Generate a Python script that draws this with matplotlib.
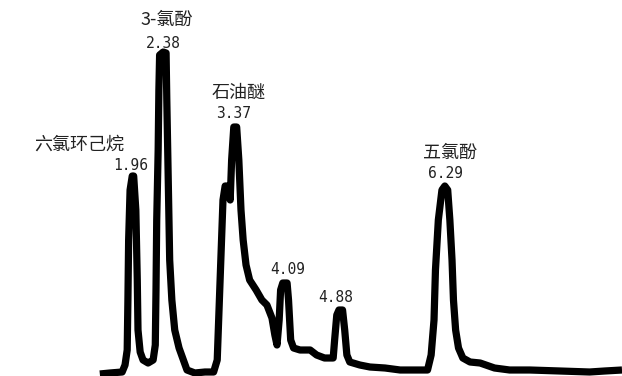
import matplotlib
matplotlib.use("Agg")
import matplotlib.pyplot as plt

# Chromatogram trace: retention time (min) and detector signal (arbitrary units)
time_min = [1.50, 1.64, 1.81, 1.85, 1.88, 1.89, 1.90, 1.92, 1.95, 1.97, 2.00, 2.02, 2.03,
            2.06, 2.10, 2.17, 2.24, 2.27, 2.28, 2.29, 2.31, 2.32, 2.33, 2.38, 2.42, 2.43,
            2.45, 2.47, 2.50, 2.54, 2.60, 2.65, 2.71, 2.82, 2.96, 3.08, 3.13, 3.15, 3.18,
            3.21, 3.24, 3.28, 3.31, 3.33, 3.36, 3.40, 3.43, 3.46, 3.49, 3.53, 3.58, 3.67,
            3.75, 3.82, 3.89, 3.93, 3.96, 3.99, 4.01, 4.04, 4.10, 4.12, 4.15, 4.19, 4.28,
            4.42, 4.51, 4.62, 4.74, 4.76, 4.79, 4.82, 4.87, 4.90, 4.93, 4.97, 5.11, 5.25,
            5.46, 5.67, 6.05, 6.10, 6.14, 6.16, 6.20, 6.25, 6.29, 6.33, 6.36, 6.39, 6.41,
            6.44, 6.48, 6.54, 6.64, 6.78, 6.98, 7.19, 7.47, 7.89, 8.30, 8.51, 8.75]
signal = [-0.2, -0.1, 0.0, 0.7, 2.2, 7.2, 13.2, 18.2, 19.6, 19.6, 16.2, 9.2, 4.2,
          2.0, 1.2, 0.9, 1.2, 2.7, 8.2, 15.2, 22.2, 28.2, 31.7, 32.0, 31.9, 27.2,
          19.2, 11.2, 7.2, 4.2, 2.4, 1.4, 0.2, -0.1, 0.0, 0.0, 1.2, 5.2, 11.2,
          17.2, 18.6, 18.6, 17.2, 21.2, 24.5, 24.5, 21.2, 16.2, 13.2, 10.7, 9.2, 8.2,
          7.2, 6.7, 5.4, 3.7, 2.7, 5.2, 8.2, 8.9, 8.9, 7.2, 3.2, 2.4, 2.2,
          2.2, 1.7, 1.4, 1.4, 3.2, 5.7, 6.2, 6.2, 4.2, 1.7, 1.0, 0.7, 0.5,
          0.4, 0.2, 0.2, 1.7, 5.2, 10.2, 15.2, 18.2, 18.6, 18.2, 15.2, 11.2, 7.2,
          4.2, 2.4, 1.4, 1.0, 0.9, 0.4, 0.2, 0.2, 0.1, 0.0, 0.1, 0.2]

# Peak annotations
peak_names = ["六氯环己烷", "3-氯酚", "石油醚", "", "", "五氯酚"]
peak_times = ["1.96", "2.38", "3.37", "4.09", "4.88", "6.29"]
time_label_x = [1.93, 2.38, 3.36, 4.11, 4.78, 6.30]
time_label_y = [20.6, 32.9, 25.8, 10.2, 7.5, 19.8]
name_label_x = [1.21, 2.43, 3.43, 4.11, 4.78, 6.36]
name_label_y = [22.7, 35.2, 27.9, 0, 0, 21.9]

fig = plt.figure(figsize=(6.22, 3.76), dpi=100)
ax = fig.add_axes([0, 0, 1, 1])
ax.plot(time_min, signal, color="black", linewidth=5.2, solid_joinstyle="round",
        solid_capstyle="butt")
ax.set_xlim(0.114, 8.75)
ax.set_ylim(-0.4, 37.2)
ax.axis("off")

cjk = ["Noto Sans CJK SC", "DejaVu Sans"]
for name, tlabel, tx, ty, nx, ny in zip(peak_names, peak_times, time_label_x,
                                        time_label_y, name_label_x, name_label_y):
    ax.text(tx, ty, tlabel, ha="center", va="center", fontsize=10.5,
            family=["DejaVu Sans Mono"], color="#222222")
    if name:
        ax.text(nx, ny, name, ha="center", va="center", fontsize=13,
                family=cjk, color="#222222")

fig.savefig("out.png", dpi=100, facecolor="white")
